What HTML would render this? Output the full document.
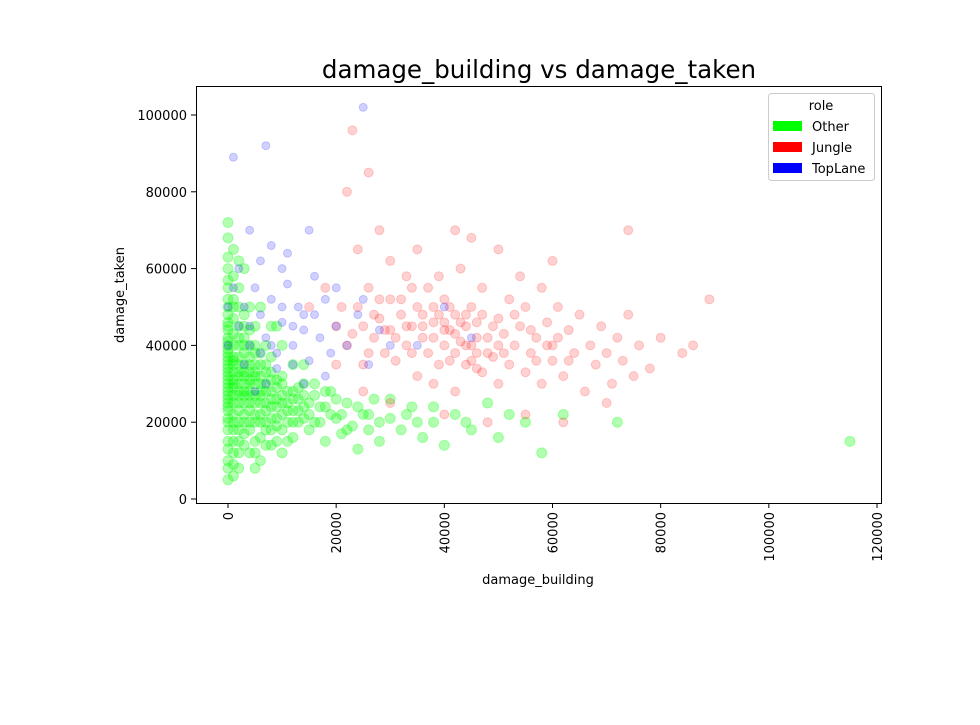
<!DOCTYPE html>
<html><head><meta charset="utf-8"><style>
body{margin:0;background:#fff;}
svg text{font-family:"DejaVu Sans","Liberation Sans",sans-serif;}
</style></head><body>
<svg id="chart" width="980" height="720" xmlns="http://www.w3.org/2000/svg">
<rect width="980" height="720" fill="#fff"/>
<text x="539" y="78" font-size="24.5" text-anchor="middle">damage_building vs damage_taken</text>
<g id="points"></g>
<rect x="196.5" y="86.5" width="685" height="417" fill="none" stroke="#000" stroke-width="1"/>
<g id="axes"></g>
<text x="538" y="584" font-size="13" text-anchor="middle">damage_building</text>
<text transform="translate(124,295) rotate(-90)" font-size="13" text-anchor="middle">damage_taken</text>
<g>
<rect x="768.5" y="93.5" width="106" height="87" rx="3" fill="#fff" fill-opacity="0.8" stroke="#ccc"/>
<text x="821" y="110" font-size="13" text-anchor="middle">role</text>
<rect x="773" y="121" width="29" height="10" fill="#00ff00"/>
<text x="812" y="131" font-size="13">Other</text>
<rect x="773" y="142" width="29" height="10" fill="#ff0000"/>
<text x="812" y="152" font-size="13">Jungle</text>
<rect x="773" y="163" width="29" height="10" fill="#0000ff"/>
<text x="812" y="173" font-size="13">TopLane</text>
</g>
</svg>
<script>
const xTicks=[0,20000,40000,60000,80000,100000,120000];
const yTicks=[0,20000,40000,60000,80000,100000];
const otherPts=[[0,30],[0,35],[0,40],[0,25],[0,20],[0,45],[0,50],[0,15],[0,55],[0,10],[0,60],[0,32],[0,38],[0,28],[0,42],[1,33],[1,27],[1,37],[1,22],[1,47],[1,18],[1,52],[1,12],[1,65],[1,30],[2,35],[2,25],[2,40],[2,20],[2,45],[2,30],[2,15],[2,55],[2,8],[3,32],[3,28],[3,38],[3,22],[3,42],[3,17],[3,48],[4,30],[4,35],[4,25],[4,20],[4,40],[4,12],[4,50],[5,27],[5,33],[5,22],[5,38],[5,15],[5,45],[6,30],[6,25],[6,20],[6,35],[6,10],[7,28],[7,23],[7,33],[7,18],[7,40],[8,26],[8,31],[8,21],[8,14],[8,37],[9,24],[9,29],[9,19],[10,27],[10,22],[10,32],[10,12],[11,25],[11,20],[12,28],[12,23],[12,16],[13,26],[13,20],[14,24],[14,30],[15,22],[15,18],[16,27],[17,20],[18,24],[18,15],[19,28],[20,21],[21,17],[22,25],[23,19],[24,13],[25,22],[26,18],[27,26],[28,15],[30,21],[32,18],[34,24],[36,16],[38,20],[40,14],[42,22],[45,18],[48,25],[50,16],[55,20],[58,12],[62,22],[72,20],[115,15],[0,68],[0,72],[0,5],[1,6],[3,60],[5,8],[2,62],[0,33],[0,27],[0,37],[0,23],[1,40],[1,25],[2,33],[2,28],[3,25],[3,35],[4,28],[4,33],[5,30],[6,28],[1,35],[0,18],[0,48],
[0,31],[0,36],[0,41],[0,26],[0,21],[0,46],[0,52],[0,57],[0,13],[0,8],[0,63],[0,34],[0,39],[0,29],[0,24],[0,44],[1,31],[1,29],[1,43],[1,20],[1,50],[1,15],[1,58],[1,9],[1,36],[2,37],[2,23],[2,42],[2,18],[2,50],[2,32],[2,12],[2,27],[3,30],[3,27],[3,40],[3,20],[3,45],[3,14],[3,33],[4,31],[4,37],[4,23],[4,18],[4,44],[4,27],[5,25],[5,35],[5,20],[5,40],[5,12],[5,32],[6,32],[6,27],[6,22],[6,38],[6,16],[7,30],[7,25],[7,35],[7,20],[7,14],[8,28],[8,33],[8,24],[8,18],[9,26],[9,31],[9,21],[9,15],[10,25],[10,30],[10,18],[11,28],[11,23],[11,15],[12,26],[12,20],[13,29],[13,23],[14,21],[14,27],[15,25],[16,20],[16,30],[17,24],[18,28],[19,22],[20,26],[21,22],[22,18],[24,24],[26,22],[28,20],[30,26],[33,22],[35,20],[38,24],[44,20],[52,22],[8,45],[10,40],[12,35],[6,50],[9,45],[14,35]];
const junglePts=[[20,45],[22,40],[24,50],[25,35],[26,55],[27,42],[28,47],[29,38],[30,52],[30,44],[31,36],[32,48],[33,58],[33,40],[34,45],[35,32],[35,50],[36,42],[37,55],[37,38],[38,46],[38,30],[39,48],[40,40],[40,52],[41,36],[41,44],[42,48],[42,28],[43,41],[43,60],[44,45],[44,35],[45,50],[45,40],[46,38],[46,46],[47,33],[47,55],[48,42],[49,37],[50,47],[50,30],[51,43],[52,52],[52,35],[53,40],[54,45],[55,33],[55,50],[56,38],[57,42],[58,55],[58,30],[59,46],[60,36],[60,40],[61,50],[62,32],[63,44],[64,38],[65,48],[66,28],[67,40],[68,35],[69,45],[70,38],[71,30],[72,42],[73,36],[74,48],[75,32],[76,40],[78,34],[80,42],[84,38],[86,40],[89,52],[24,65],[28,70],[35,65],[42,70],[22,80],[30,62],[50,65],[60,62],[18,55],[15,50],[20,35],[25,28],[30,25],[40,22],[48,20],[55,22],[62,20],[70,25],[23,96],[26,85],[45,68],[74,70],[54,58],
[21,50],[23,43],[26,38],[27,48],[29,44],[31,42],[32,52],[34,38],[36,48],[38,42],[39,35],[40,46],[41,50],[42,38],[43,46],[44,40],[45,36],[46,42],[47,48],[48,38],[49,45],[51,38],[53,48],[56,44],[57,36],[59,40],[61,42],[63,36],[36,45],[40,44],[44,48],[38,50],[33,45],[28,52],[25,45],[42,43],[46,34],[50,40],[34,55],[39,58]];
const topLanePts=[[2,45],[3,50],[4,40],[5,55],[6,48],[7,42],[8,52],[9,38],[10,46],[11,56],[12,40],[13,50],[14,44],[15,36],[16,48],[17,42],[18,52],[19,38],[20,45],[22,40],[24,48],[26,35],[28,44],[30,40],[6,62],[8,66],[10,60],[4,70],[12,35],[7,30],[9,34],[14,30],[3,35],[5,28],[16,58],[20,55],[25,52],[1,89],[7,92],[25,102],[40,50],[45,42],[35,40],[2,60],[11,64],[15,70],[18,32],[0,40],[0,50],[1,55],[4,45],[8,40],[10,50],[12,45],[6,38],[14,48]];
const NS="http://www.w3.org/2000/svg";
function xs(v){return 228+(v/120000)*649;}
function ys(v){return 499-(v/100000)*384;}
const pts=document.getElementById('points');
function draw(arr,color,name,r,a){
  arr.forEach(p=>{
    const c=document.createElementNS(NS,'circle');
    c.setAttribute('cx',xs(p[0]*1000));c.setAttribute('cy',ys(p[1]*1000));
    c.setAttribute('r',r);c.setAttribute('fill',color);c.setAttribute('fill-opacity',a);
    c.setAttribute('stroke',color);c.setAttribute('stroke-opacity',a);
    
    
    pts.appendChild(c);
  });
}
draw(otherPts,'#00ff00','point-other',5,0.3);
draw(junglePts,'#ff0000','point-jungle',4.5,0.18);
draw(topLanePts,'#0000ff','point-toplane',4,0.18);
const ax=document.getElementById('axes');
xTicks.forEach(t=>{
  const x=xs(t);
  const l=document.createElementNS(NS,'line');
  l.setAttribute('x1',x);l.setAttribute('x2',x);l.setAttribute('y1',503);l.setAttribute('y2',508);l.setAttribute('stroke','#000');
  
  
  ax.appendChild(l);
  const tx=document.createElementNS(NS,'text');
  tx.setAttribute('transform','translate('+(x+5)+',512) rotate(-90)');
  tx.setAttribute('font-size','13');tx.setAttribute('text-anchor','end');
  tx.textContent=t;
  
  
  ax.appendChild(tx);
});
yTicks.forEach(t=>{
  const y=ys(t);
  const l=document.createElementNS(NS,'line');
  l.setAttribute('x1',191);l.setAttribute('x2',196);l.setAttribute('y1',y);l.setAttribute('y2',y);l.setAttribute('stroke','#000');
  
  
  ax.appendChild(l);
  const tx=document.createElementNS(NS,'text');
  tx.setAttribute('x',187);tx.setAttribute('y',y+5);
  tx.setAttribute('font-size','13');tx.setAttribute('text-anchor','end');
  tx.textContent=t;
  
  
  ax.appendChild(tx);
});
</script>
</body></html>
